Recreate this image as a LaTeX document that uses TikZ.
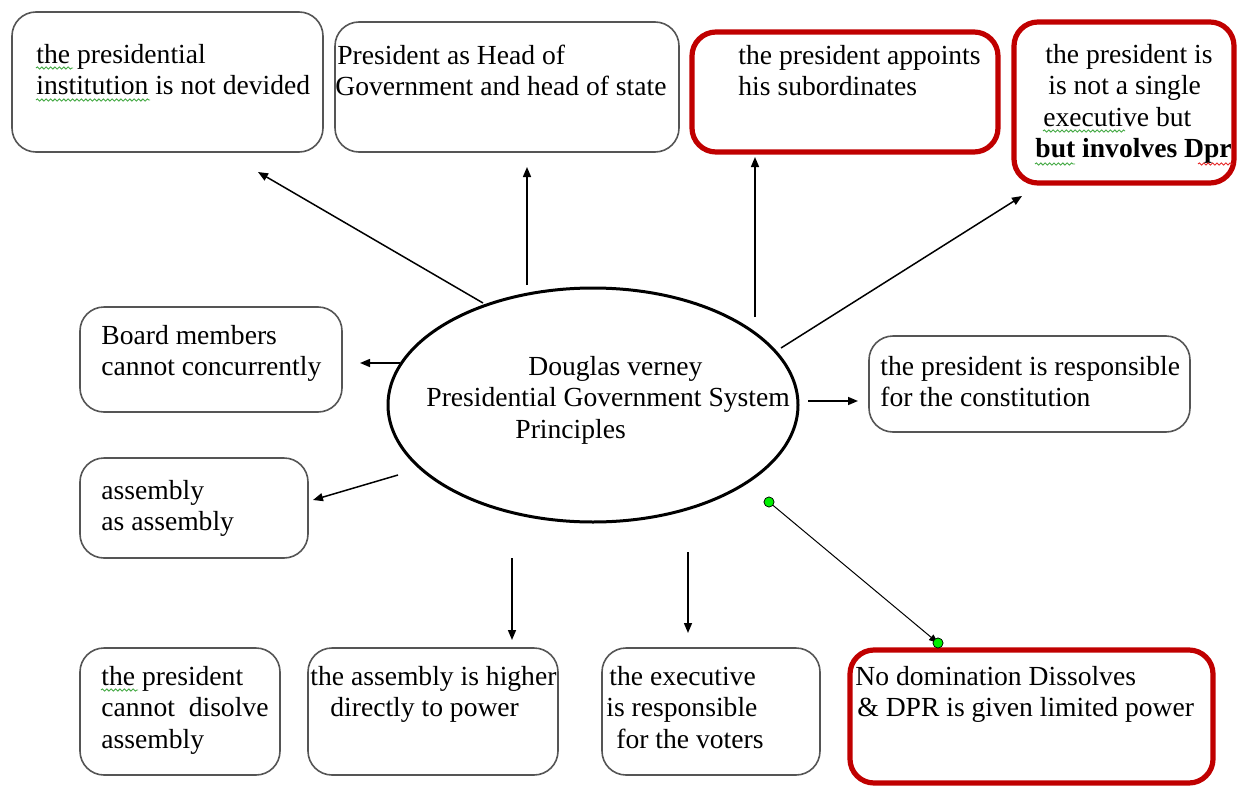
\documentclass[tikz,border=0pt]{standalone}
\usepackage{fontspec}
\setmainfont{Liberation Serif}
\usetikzlibrary{shapes.geometric,arrows.meta,fit,decorations.pathmorphing}
\definecolor{wordred}{RGB}{192,0,0}
\definecolor{boxgray}{RGB}{85,85,85}
\definecolor{spell}{RGB}{70,170,70}
\definecolor{spellred}{RGB}{230,40,40}
\definecolor{dotgreen}{RGB}{0,240,0}
\begin{document}
\begin{tikzpicture}[x=0.5pt,y=-0.5pt,
  box/.style={draw=boxgray, line width=0.8pt, rounded corners=12pt, inner sep=0pt},
  redbox/.style={draw=wordred, line width=2.6pt, rounded corners=12pt, inner sep=0pt},
  txt/.style={anchor=base west, inner sep=0pt, align=left, font=\fontsize{13.8}{15.75}\selectfont},
  arr/.style={line width=0.75pt, -{Triangle[length=5pt,width=4pt]}},
  thinarr/.style={line width=0.5pt, -{Triangle[length=4.5pt,width=3.5pt]}},
  wave/.style={spell, line width=0.45pt, decorate, decoration={snake, amplitude=0.55pt, segment length=2.2pt}},
  dot/.style={circle, fill=dotgreen, draw=black, line width=0.3pt, inner sep=0pt, minimum size=5pt}]
\useasboundingbox (0,0) rectangle (1237,787);

% boxes
\node[box, fit={(12,12) (323,152)}] (b1) {};
\node[box, fit={(335,22) (679,152)}] (b2) {};
\node[redbox, fit={(692,32) (998,152)}] (b3) {};
\node[redbox, fit={(1014,22) (1234,183)}] (b4) {};
\node[box, fit={(80,307) (342,412)}] (b5) {};
\node[box, fit={(869,336) (1190,432)}] (b6) {};
\node[box, fit={(80,458) (308,558)}] (b7) {};
\node[box, fit={(80,648) (280,775)}] (b8) {};
\node[box, fit={(308,648) (558,775)}] (b9) {};
\node[box, fit={(602,648) (820,775)}] (b10) {};
\node[redbox, fit={(850,650) (1213,783)}] (b11) {};

% centre ellipse
\node[ellipse, draw, line width=1.5pt, minimum width=205pt, minimum height=117pt] (ell) at (593,405) {};

% texts (anchored at the baseline of their last line)
\node[txt] (t1) at (36,94.5) {the presidential\\institution is not devided};
\node[txt] (t2) at (335,95.5) {\hspace*{1pt}President as Head of\\Government and head of state};
\node[txt] (t3) at (738,95.5) {the president appoints\\his subordinates};
\node[txt] (t4) at (1035,157.5) {\hspace*{5pt}the president is\\\hspace*{6.5pt}is not a single\\\hspace*{4pt}executive but\\\bfseries but involves Dpr};
\node[txt] (t5) at (101,375.5) {Board members\\cannot concurrently};
\node[txt] (t6) at (880,406.5) {the president is responsible\\for the constitution};
\node[txt] (t7) at (101,530.5) {assembly\\as assembly};
\node[txt] (t8) at (101,748) {the president\\cannot\ \ disolve\\assembly};
\node[txt] (t9) at (310,716.5) {the assembly is higher\\\hspace*{10pt}directly to power};
\node[txt] (t10) at (606,748) {\hspace*{1.5pt}the executive\\is responsible\\\hspace*{5pt}for the voters};
\node[txt] (t11) at (855,716.5) {No domination Dissolves\\\hspace*{1pt}\& DPR is given limited power};
\node[txt] (tc) at (426,438) {\hspace*{51pt}Douglas verney\\Presidential Government System\\\hspace*{44.5pt}Principles};

% spelling marks
\draw[wave] (36,68) -- (73,68);
\draw[wave] (36,100) -- (150,100);
\draw[wave] (1043,131) -- (1125,131);
\draw[wave] (1035,164) -- (1075,164);
\draw[wave, spellred] (1198,164) -- (1233,164);
\draw[wave] (101,690) -- (138,690);

% connector end points
\coordinate (s1) at (483,303); \coordinate (e1) at (258,172);
\coordinate (s2) at (527,285); \coordinate (e2) at (527,167);
\coordinate (s3) at (755,317); \coordinate (e3) at (755,157);
\coordinate (s4) at (781,348); \coordinate (e4) at (1022,196);
\coordinate (s5) at (400,363); \coordinate (e5) at (360,363);
\coordinate (s6) at (808,401); \coordinate (e6) at (858,401);
\coordinate (s7) at (398,475); \coordinate (e7) at (313,500);
\coordinate (s9) at (512,558); \coordinate (e9) at (512,640);
\coordinate (s10) at (688,552); \coordinate (e10) at (688,633);

\draw[arr] (s1) -- (e1);
\draw[arr] (s2) -- (e2);
\draw[arr] (s3) -- (e3);
\draw[arr] (s4) -- (e4);
\draw[arr] (s5) -- (e5);
\draw[arr] (s6) -- (e6);
\draw[arr] (s7) -- (e7);
\draw[arr] (s9) -- (e9);
\draw[arr] (s10) -- (e10);

% selected connector with handles
\node[dot] (d1) at (769,502) {};
\node[dot] (d2) at (938,643) {};
\draw[thinarr] (d1.center) -- (d2.center);
\node[dot] at (d1) {};
\node[dot] at (d2) {};
\end{tikzpicture}
\end{document}
